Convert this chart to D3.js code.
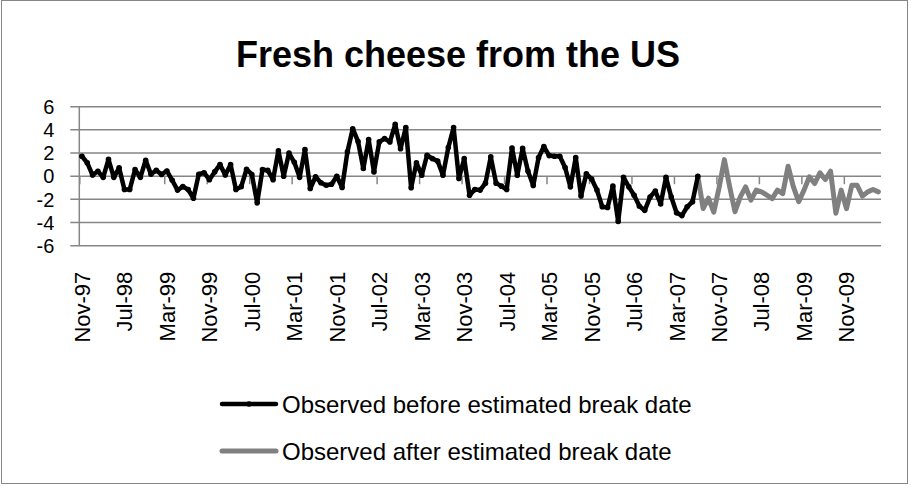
<!DOCTYPE html>
<html>
<head>
<meta charset="utf-8">
<script src="https://cdn.jsdelivr.net/npm/d3@7"></script>
<style>
  body { margin: 0; background: #fff; }
  text { font-family: "Liberation Sans", Arial, sans-serif; }
</style>
</head>
<body>
<div id="chart"></div>
<script>
// monthly values, Nov-97 .. May-10 (151 months)
const startMonth = new Date(1997, 10, 1);
const nMonths = 151;

// observed before the break (index 0..116)
const beforeBreak = [1.72,1.15,0.1,0.43,-0.1,1.46,-0.1,0.72,-1.15,-1.15,
  0.57,-0.1,1.38,0.17,0.5,0.15,0.45,-0.35,-1.2,-0.9,
  -1.15,-1.9,0.17,0.3,-0.3,0.37,1.0,0.1,1.0,-1.15,
  -0.9,0.6,0.15,-2.3,0.57,0.5,-0.3,2.2,0.0,2.0,
  1.2,-0.1,2.3,-1.06,-0.05,-0.57,-0.78,-0.7,0.0,-0.98,
  2.1,4.1,3.0,0.66,3.16,0.37,2.96,3.25,2.96,4.48,
  2.38,4.2,-1.0,1.15,0.09,1.81,1.52,1.3,0.09,2.47,
  4.2,-0.2,1.52,-1.64,-1.15,-1.2,-0.6,1.67,-0.6,-0.86,
  -1.15,2.44,0.09,2.4,0.45,-0.8,1.6,2.56,1.78,1.72,
  1.72,0.75,-0.92,1.6,-1.7,0.2,-0.25,-1.2,-2.64,-2.7,
  -0.86,-3.9,-0.1,-0.92,-1.64,-2.6,-2.95,-1.8,-1.28,-2.4,
  -0.1,-1.8,-3.16,-3.4,-2.64,-2.2,0.0];

// observed after the break (index 116..150)
const afterStart = 116;
const afterBreak = [0.0,-2.79,-1.9,-3.1,-1.0,1.43,-0.92,-3.07,-1.78,-0.92,
  -2.07,-1.2,-1.35,-1.64,-1.93,-1.2,-1.5,0.86,-0.92,-2.2,
  -1.2,-0.06,-0.63,0.29,-0.29,0.43,-3.2,-1.2,-2.8,-0.78,
  -0.78,-1.72,-1.35,-1.15,-1.35];

const yTicks = [-6, -4, -2, 0, 2, 4, 6];
const labelEvery = 8;
const seriesNames = ["Observed before estimated break date", "Observed after estimated break date"];
const chartTitle = "Fresh cheese from the US";

const W = 911, H = 486;
const margin = {left: 79.3, top: 106.7};
const width = 801.7, height = 139;

const fmt = d3.timeFormat("%b-%y");
const months = d3.range(nMonths).map(i => d3.timeMonth.offset(startMonth, i));

const svg = d3.select("#chart").append("svg")
    .attr("width", W)
    .attr("height", H);

// outer frame
svg.append("rect")
    .attr("x", 1.5).attr("y", 0.5)
    .attr("width", 906).attr("height", 483)
    .attr("fill", "#fff")
    .attr("stroke", "#868686");

// title
svg.append("text")
    .attr("x", 458).attr("y", 67)
    .attr("text-anchor", "middle")
    .style("font-size", "36px")
    .style("font-weight", "bold")
    .text(chartTitle);

const g = svg.append("g")
    .attr("transform", `translate(${margin.left}, ${margin.top})`);

const x = d3.scaleBand()
    .domain(d3.range(nMonths))
    .range([0, width])
    .padding(0);
const xc = i => x(i) + x.bandwidth() / 2;

const y = d3.scaleLinear()
    .domain([-6, 6])
    .range([height, 0]);

// gridlines + left tick marks
g.append("g")
  .selectAll("line")
  .data(yTicks)
  .join("line")
    .attr("x1", -9).attr("x2", width)
    .attr("y1", d => y(d)).attr("y2", d => y(d))
    .attr("stroke", "#868686")
    .attr("stroke-width", 1.5);

// y axis labels
g.append("g")
  .selectAll("text")
  .data(yTicks)
  .join("text")
    .attr("x", -25)
    .attr("y", d => y(d))
    .attr("dy", "0.36em")
    .attr("text-anchor", "end")
    .style("font-size", "20px")
    .text(d => d);

// vertical axis line
g.append("line")
    .attr("x1", 0).attr("x2", 0)
    .attr("y1", 0).attr("y2", height)
    .attr("stroke", "#868686")
    .attr("stroke-width", 1.5);

// category tick marks on the zero line
const xb = d3.scaleLinear().domain([0, nMonths]).range([0, width]);
const tickIdx = d3.range(0, nMonths, labelEvery);
g.append("g")
    .attr("transform", `translate(0, ${y(0)})`)
    .call(d3.axisBottom(xb).tickValues(tickIdx).tickFormat("").tickSize(8).tickSizeOuter(0))
    .call(a => a.select(".domain").remove())
    .call(a => a.selectAll("line").attr("stroke", "#868686").attr("stroke-width", 1.5));

// rotated category labels
g.append("g")
  .selectAll("text")
  .data(tickIdx)
  .join("text")
    .attr("transform", d => `translate(${xc(d)}, ${165}) rotate(-90)`)
    .attr("dy", "0.36em")
    .attr("text-anchor", "end")
    .style("font-size", "22px")
    .text(d => fmt(months[d]));

const line = d3.line()
    .x(d => xc(d.i))
    .y(d => y(d.v));

const before = beforeBreak.map((v, i) => ({i: i, v: v}));
const after = afterBreak.map((v, k) => ({i: afterStart + k, v: v}));

g.append("path")
    .datum(after)
    .attr("fill", "none")
    .attr("stroke", "#808080")
    .attr("stroke-width", 5)
    .attr("stroke-linejoin", "round")
    .attr("stroke-linecap", "round")
    .attr("d", line);

g.append("path")
    .datum(before)
    .attr("fill", "none")
    .attr("stroke", "#000")
    .attr("stroke-width", 4.5)
    .attr("stroke-linejoin", "round")
    .attr("stroke-linecap", "round")
    .attr("d", line);

g.append("g")
  .selectAll("circle")
  .data(before)
  .join("circle")
    .attr("cx", d => xc(d.i))
    .attr("cy", d => y(d.v))
    .attr("r", 2.8)
    .attr("fill", "#000");

// legend
const legend = svg.append("g");
const legendRows = legend.selectAll("g")
  .data(seriesNames)
  .join("g")
    .attr("transform", (d, i) => `translate(222, ${404 + i * 47})`);

legendRows.append("line")
    .attr("x1", 0).attr("x2", 54)
    .attr("stroke", (d, i) => i === 0 ? "#000" : "#808080")
    .attr("stroke-width", (d, i) => i === 0 ? 4.5 : 5)
    .attr("stroke-linecap", "round");

legendRows.filter((d, i) => i === 0).append("circle")
    .attr("cx", 27).attr("r", 2.8)
    .attr("fill", "#000");

legendRows.append("text")
    .attr("x", 60)
    .attr("dy", "0.36em")
    .style("font-size", "24px")
    .text(d => d);
</script>
</body>
</html>
